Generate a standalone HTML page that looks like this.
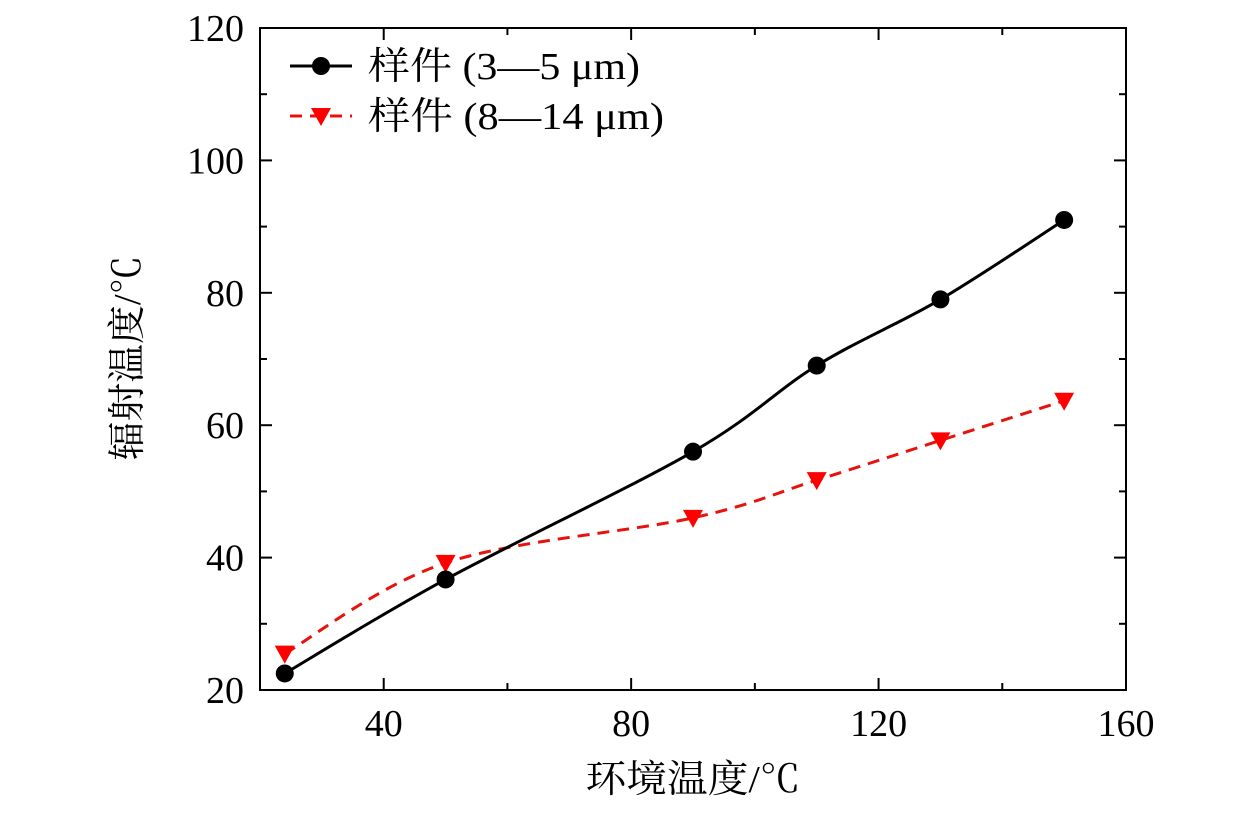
<!DOCTYPE html>
<html><head><meta charset="utf-8"><style>
html,body{margin:0;padding:0;background:#fff;}
svg text{font-family:"Liberation Serif","Noto Serif CJK SC",serif;fill:#000;}
</style></head><body>
<svg id="chart" width="1260" height="811" xmlns="http://www.w3.org/2000/svg"></svg>
<script>
const xs1 = [24, 50, 90, 110, 130, 150];
const ys1 = [22.5, 36.7, 56, 69, 79, 91];
const xs2 = [24, 50, 90, 110, 130, 150];
const ys2 = [25.5, 39.2, 46, 51.7, 57.7, 63.7];
const xTicks = [40, 80, 120, 160];
const yTicks = [20, 40, 60, 80, 100, 120];
const xMinor = [20, 60, 100, 140];
const yMinor = [30, 50, 70, 90, 110];

const L=260,R=1126,T=28,B=690,X0=20,X1=160,Y0=20,Y1=120;
const sx=v=>L+(v-X0)/(X1-X0)*(R-L);
const sy=v=>B-(v-Y0)/(Y1-Y0)*(B-T);
const svg=document.getElementById('chart');
const NS='http://www.w3.org/2000/svg';
function mk(tag,attrs,parent){const e=document.createElementNS(NS,tag);for(const k in attrs)e.setAttribute(k,attrs[k]);(parent||svg).appendChild(e);return e;}

function spline(xs,ys){
  const p=xs.map((x,i)=>[sx(x),sy(ys[i])]);
  let d=`M${p[0][0]},${p[0][1]}`;
  for(let i=0;i<p.length-1;i++){
    const p0=p[i-1]||p[i],p1=p[i],p2=p[i+1],p3=p[i+2]||p[i+1];
    const c1=[p1[0]+(p2[0]-p0[0])/6,p1[1]+(p2[1]-p0[1])/6];
    const c2=[p2[0]-(p3[0]-p1[0])/6,p2[1]-(p3[1]-p1[1])/6];
    d+=` C${c1[0]},${c1[1]} ${c2[0]},${c2[1]} ${p2[0]},${p2[1]}`;
  }
  return d;
}

xTicks.forEach(v=>{
  let t=mk('line',{x1:sx(v),x2:sx(v),y1:B,y2:B-12,stroke:'#000','stroke-width':2});
   
  let t2=mk('line',{x1:sx(v),x2:sx(v),y1:T,y2:T+12,stroke:'#000','stroke-width':2});
   
  let tx=mk('text',{x:sx(v),y:B+46,'text-anchor':'middle','font-size':38});
  tx.textContent=v;
   
});
xMinor.forEach(v=>{
  let t=mk('line',{x1:sx(v),x2:sx(v),y1:B,y2:B-7,stroke:'#000','stroke-width':2});
   
  let t2=mk('line',{x1:sx(v),x2:sx(v),y1:T,y2:T+7,stroke:'#000','stroke-width':2});
   
});
yTicks.forEach(v=>{
  let t=mk('line',{x1:L,x2:L+12,y1:sy(v),y2:sy(v),stroke:'#000','stroke-width':2});
   
  let t2=mk('line',{x1:R,x2:R-12,y1:sy(v),y2:sy(v),stroke:'#000','stroke-width':2});
   
  let tx=mk('text',{x:L-16,y:sy(v)+13,'text-anchor':'end','font-size':38});
  tx.textContent=v;
   
});
yMinor.forEach(v=>{
  let t=mk('line',{x1:L,x2:L+7,y1:sy(v),y2:sy(v),stroke:'#000','stroke-width':2});
   
  let t2=mk('line',{x1:R,x2:R-7,y1:sy(v),y2:sy(v),stroke:'#000','stroke-width':2});
   
});

let l2=mk('path',{d:spline(xs2,ys2),fill:'none',stroke:'#e8120c','stroke-width':3,'stroke-dasharray':'12,8'});
 
let l1=mk('path',{d:spline(xs1,ys1),fill:'none',stroke:'#000','stroke-width':3});
 
function tri(x,y){return `${x-10},${y-8} ${x+10},${y-8} ${x},${y+10}`;}
xs2.forEach((x,i)=>{
  let m=mk('polygon',{points:tri(sx(x),sy(ys2[i])),fill:'#ff0000'});
   
});
xs1.forEach((x,i)=>{
  let m=mk('circle',{cx:sx(x),cy:sy(ys1[i]),r:9,fill:'#000'});
   
});

let f=mk('rect',{x:L,y:T,width:R-L,height:B-T,fill:'none',stroke:'#000','stroke-width':2});
 

let g=mk('g',{});
 
let e1=mk('line',{x1:290,x2:352,y1:66,y2:66,stroke:'#000','stroke-width':3},g);
 
let c1=mk('circle',{cx:321,cy:66,r:9,fill:'#000'},g);
 
let t1=mk('text',{x:368,y:79,'font-size':38,textLength:272,lengthAdjust:'spacingAndGlyphs'},g);
t1.textContent='样件 (3—5 μm)';
 
let e2=mk('line',{x1:290,x2:352,y1:116,y2:116,stroke:'#e8120c','stroke-width':3,'stroke-dasharray':'12,8'},g);
 
let p2=mk('polygon',{points:tri(321,116),fill:'#ff0000'},g);
 
let t2=mk('text',{x:368,y:129,'font-size':38,textLength:296,lengthAdjust:'spacingAndGlyphs'},g);
t2.textContent='样件 (8—14 μm)';
 

let xt=mk('text',{x:693,y:792,'text-anchor':'middle','font-size':38,textLength:215,lengthAdjust:'spacingAndGlyphs'});
xt.textContent='环境温度/℃';
 
let yt=mk('text',{x:0,y:0,'text-anchor':'middle','font-size':38,textLength:205,lengthAdjust:'spacingAndGlyphs',transform:'translate(140,358) rotate(-90)'});
yt.textContent='辐射温度/℃';
 
</script>
</body></html>
